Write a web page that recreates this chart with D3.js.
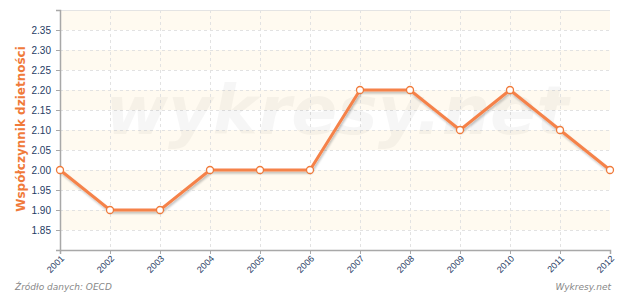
<!DOCTYPE html>
<html>
<head>
<meta charset="utf-8">
<script src="https://cdn.jsdelivr.net/npm/d3@7"></script>
<style>
  body { margin: 0; background: #fff; }
  svg { display: block; font-family: "DejaVu Sans", sans-serif; }
</style>
</head>
<body>
<svg class="chart"></svg>
<script>
const years = ['2001', '2002', '2003', '2004', '2005', '2006', '2007', '2008', '2009', '2010', '2011', '2012'];
const fertility = [2.00, 1.90, 1.90, 2.00, 2.00, 2.00, 2.20, 2.20, 2.10, 2.20, 2.10, 2.00];
const yTicks = [1.85, 1.90, 1.95, 2.00, 2.05, 2.10, 2.15, 2.20, 2.25, 2.30, 2.35];
const bandStarts = [1.85, 1.95, 2.05, 2.15, 2.25, 2.35];

const svgWidth = 620;
const svgHeight = 292;
const margin = { top: 10, right: 10, bottom: 42, left: 60 };
const chartWidth = svgWidth - margin.left - margin.right;
const chartHeight = svgHeight - margin.top - margin.bottom;

const svg = d3.select('.chart')
  .attr('width', svgWidth)
  .attr('height', svgHeight);

const defs = svg.append('defs');
const shadow = defs.append('filter').attr('id', 'shadow')
  .attr('x', '-10%').attr('y', '-10%').attr('width', '120%').attr('height', '130%');
shadow.append('feGaussianBlur').attr('in', 'SourceAlpha').attr('stdDeviation', 1.2);
shadow.append('feOffset').attr('dx', 1).attr('dy', 2).attr('result', 'off');
shadow.append('feComponentTransfer').append('feFuncA').attr('type', 'linear').attr('slope', 0.25);
const merge = shadow.append('feMerge');
merge.append('feMergeNode');
merge.append('feMergeNode').attr('in', 'SourceGraphic');

const chart = svg.append('g')
  .attr('transform', 'translate(' + margin.left + ',' + margin.top + ')');

const xScale = d3.scalePoint()
  .domain(years)
  .range([0, chartWidth]);

const yScale = d3.scaleLinear()
  .domain([1.80, 2.40])
  .range([chartHeight, 0]);

// alternating bands
chart.selectAll('.band')
  .data(bandStarts)
  .enter()
  .append('rect')
  .attr('x', 0)
  .attr('y', d => yScale(d + 0.05))
  .attr('width', chartWidth)
  .attr('height', d => yScale(d) - yScale(d + 0.05))
  .attr('fill', '#fffaf0');

// grid
chart.selectAll('.hgrid')
  .data(yTicks)
  .enter()
  .append('line')
  .attr('x1', 0)
  .attr('x2', chartWidth)
  .attr('y1', d => yScale(d) + 0.5)
  .attr('y2', d => yScale(d) + 0.5)
  .attr('stroke', '#e2e2e2')
  .attr('stroke-dasharray', '3,3');

chart.selectAll('.vgrid')
  .data(years.slice(1, -1))
  .enter()
  .append('line')
  .attr('x1', d => xScale(d) + 0.5)
  .attr('x2', d => xScale(d) + 0.5)
  .attr('y1', 0)
  .attr('y2', chartHeight)
  .attr('stroke', '#e2e2e2')
  .attr('stroke-dasharray', '3,3');

// top border
chart.append('line')
  .attr('x1', 0).attr('x2', chartWidth)
  .attr('y1', 0.5).attr('y2', 0.5)
  .attr('stroke', '#e4e4e4');

// watermark
chart.append('text')
  .attr('x', chartWidth / 2 + 2)
  .attr('y', 124)
  .attr('text-anchor', 'middle')
  .attr('font-size', '68px')
  .attr('font-weight', 'bold')
  .attr('font-style', 'italic')
  .attr('fill', '#000')
  .attr('fill-opacity', 0.035)
  .text('wykresy.net');

// axes
const xAxisGroup = chart.append('g')
  .attr('transform', 'translate(0,' + chartHeight + ')')
  .call(d3.axisBottom(xScale).tickSize(4).tickPadding(4));

xAxisGroup.select('.domain').attr('stroke', '#a8a8a8').attr('stroke-width', 1.5);
xAxisGroup.selectAll('line').attr('stroke', '#a8a8a8');
xAxisGroup.selectAll('text')
  .attr('fill', '#1f3c64')
  .attr('font-size', '9px')
  .attr('text-anchor', 'end')
  .attr('x', 0)
  .attr('y', 0)
  .attr('dy', '0.35em')
  .attr('transform', 'translate(2,7) rotate(-45)');

const yAxisGroup = chart.append('g')
  .call(d3.axisLeft(yScale).tickValues(yTicks).tickFormat(d3.format('.2f')).tickSize(4).tickPadding(5));

yAxisGroup.select('.domain').attr('stroke', '#a8a8a8').attr('stroke-width', 1.5);
yAxisGroup.selectAll('line').attr('stroke', '#a8a8a8');
yAxisGroup.selectAll('text')
  .attr('fill', '#1f3c64')
  .attr('font-size', '10px');

svg.append('text')
  .attr('transform', 'rotate(-90)')
  .attr('x', -129)
  .attr('y', 25)
  .attr('text-anchor', 'middle')
  .attr('font-size', '12px')
  .attr('font-weight', 'bold')
  .attr('fill', '#f07a3a')
  .text('Współczynnik dzietności');

// line
const line = d3.line()
  .x((d, i) => xScale(years[i]))
  .y(d => yScale(d));

chart.append('path')
  .datum(fertility)
  .attr('d', line)
  .attr('fill', 'none')
  .attr('stroke', '#f5824a')
  .attr('stroke-width', 3)
  .attr('filter', 'url(#shadow)');

chart.selectAll('.dot')
  .data(fertility)
  .enter()
  .append('circle')
  .attr('cx', (d, i) => xScale(years[i]))
  .attr('cy', d => yScale(d))
  .attr('r', 3.5)
  .attr('fill', '#fff')
  .attr('stroke', '#f07a3a')
  .attr('stroke-width', 1.3);

// footer
svg.append('text')
  .attr('x', 15)
  .attr('y', 290)
  .attr('font-size', '9px')
  .attr('font-style', 'italic')
  .attr('fill', '#888')
  .text('Źródło danych: OECD');

svg.append('text')
  .attr('x', 611)
  .attr('y', 290)
  .attr('text-anchor', 'end')
  .attr('font-size', '9px')
  .attr('font-style', 'italic')
  .attr('fill', '#888')
  .text('Wykresy.net');
</script>
</body>
</html>
